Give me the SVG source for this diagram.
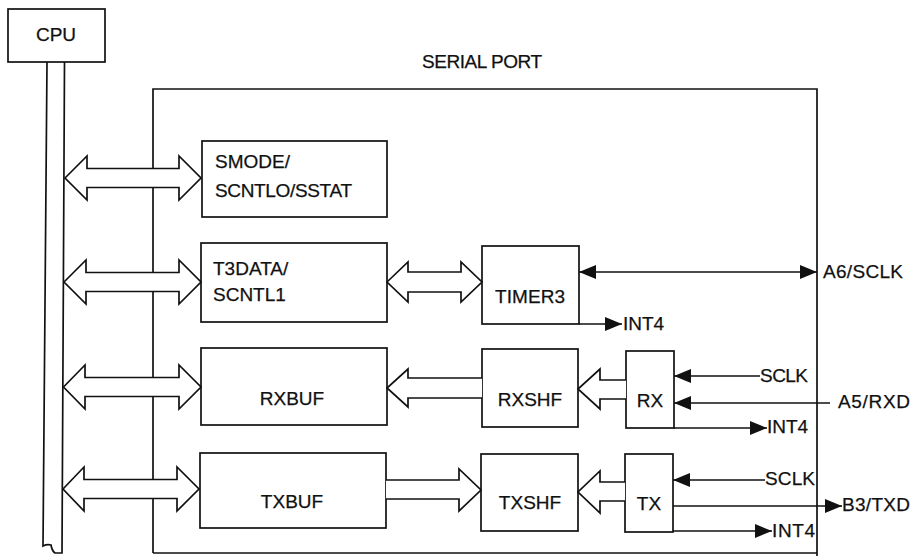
<svg xmlns="http://www.w3.org/2000/svg" width="914" height="556" viewBox="0 0 914 556">
<style>
.ln{fill:none;stroke:#111;stroke-width:1.7}
.bx{fill:#fff;stroke:#111;stroke-width:1.7}
.ha{fill:#fff;stroke:#111;stroke-width:1.7;stroke-linejoin:miter}
text{font-family:"Liberation Sans",Arial,Helvetica,sans-serif;font-size:19px;fill:#111;stroke:#111;stroke-width:0.25}
.c{text-anchor:middle}
</style>
<defs>
<marker id="ah" viewBox="0 0 17 14" refX="17" refY="7" markerWidth="17" markerHeight="14" markerUnits="userSpaceOnUse" orient="auto-start-reverse">
<path d="M0,0 L17,7 L0,14 z" fill="#111"/>
</marker>
</defs>
<rect width="914" height="556" fill="#fff"/>

<g id="cpu">
<rect class="bx" x="8" y="9" width="97" height="53"/>
<text class="c" x="56" y="41">CPU</text>
</g>
<g id="bus">
<path class="ln" d="M47,62 L43,546 Q47,544 51,545 Q52,551 55,553 L62,553 L64.5,62"/>
</g>
<g id="serial-port">
<path class="ln" d="M153,553 L153,89 L817,89 L817,556 M153,553 L817,553"/>
<text x="422" y="68" textLength="120">SERIAL PORT</text>
</g>
<g id="smode">
<rect class="bx" x="202" y="141" width="185" height="76"/>
<text x="215" y="168">SMODE/</text>
<text x="215" y="197" textLength="137">SCNTLO/SSTAT</text>
</g>
<g id="t3data">
<rect class="bx" x="201" y="243" width="186" height="79"/>
<text x="213" y="275">T3DATA/</text>
<text x="213" y="301">SCNTL1</text>
</g>
<g id="timer3">
<rect class="bx" x="482" y="246" width="97" height="78"/>
<text x="495" y="303" textLength="70">TIMER3</text>
</g>
<g id="rxbuf">
<rect class="bx" x="201" y="348" width="186" height="77"/>
<text class="c" x="292" y="405">RXBUF</text>
</g>
<g id="rxshf">
<rect class="bx" x="482" y="349" width="96" height="78"/>
<text class="c" x="530" y="406">RXSHF</text>
</g>
<g id="rx">
<rect class="bx" x="626" y="351" width="48" height="77"/>
<text class="c" x="650" y="407">RX</text>
</g>
<g id="txbuf">
<rect class="bx" x="200" y="453" width="186" height="75"/>
<text class="c" x="292" y="508">TXBUF</text>
</g>
<g id="txshf">
<rect class="bx" x="481" y="454" width="97" height="77"/>
<text class="c" x="530" y="509">TXSHF</text>
</g>
<g id="tx">
<rect class="bx" x="625" y="454" width="48" height="78"/>
<text class="c" x="649" y="510">TX</text>
</g>

<g id="connectors">
<polygon class="ha" points="65,178 87,156 87,168.5 179,168.5 179,156 201,178 179,200 179,187.5 87,187.5 87,200"/>
<polygon class="ha" points="64,282 86,260 86,272.5 179,272.5 179,260 201,282 179,304 179,291.5 86,291.5 86,304"/>
<polygon class="ha" points="63.5,387 85,365 85,377.5 179,377.5 179,365 201,387 179,409 179,396.5 85,396.5 85,409"/>
<polygon class="ha" points="63,489 84,467 84,479.5 177,479.5 177,467 199,489 177,511 177,498.5 84,498.5 84,511"/>
<polygon class="ha" points="387,282 408,262 408,272 461,272 461,262 482,282 461,302 461,292 408,292 408,302"/>
<path class="ha" d="M482,378 L408,378 L408,369 L387,388 L408,407 L408,398 L482,398"/>
<path class="ha" d="M626,380 L600,380 L600,369 L578,389 L600,409 L600,399 L626,399"/>
<path class="ha" d="M386,480 L459,480 L459,469 L481,490 L459,511 L459,499 L386,499"/>
<path class="ha" d="M625,482 L600,482 L600,471 L578,492 L600,513 L600,501 L625,501"/>
<path class="ln" d="M579,272 L817,272" marker-start="url(#ah)" marker-end="url(#ah)"/>
<path class="ln" d="M579,324 L622,324" marker-end="url(#ah)"/>
<path class="ln" d="M760,376 L674,376" marker-end="url(#ah)"/>
<path class="ln" d="M830,403 L674,403" marker-end="url(#ah)"/>
<path class="ln" d="M674,428 L767,428" marker-end="url(#ah)"/>
<path class="ln" d="M765,480 L673,480" marker-end="url(#ah)"/>
<path class="ln" d="M673,506 L842,506" marker-end="url(#ah)"/>
<path class="ln" d="M673,531 L772,531" marker-end="url(#ah)"/>
<text x="823" y="278" textLength="80">A6/SCLK</text>
<text x="623" y="330" textLength="41">INT4</text>
<text x="760" y="382" textLength="48">SCLK</text>
<text x="838" y="408" textLength="72">A5/RXD</text>
<text x="767" y="433" textLength="41">INT4</text>
<text x="765" y="485" textLength="50">SCLK</text>
<text x="842" y="511" textLength="68">B3/TXD</text>
<text x="772" y="537" textLength="43">INT4</text>
</g>
</svg>
